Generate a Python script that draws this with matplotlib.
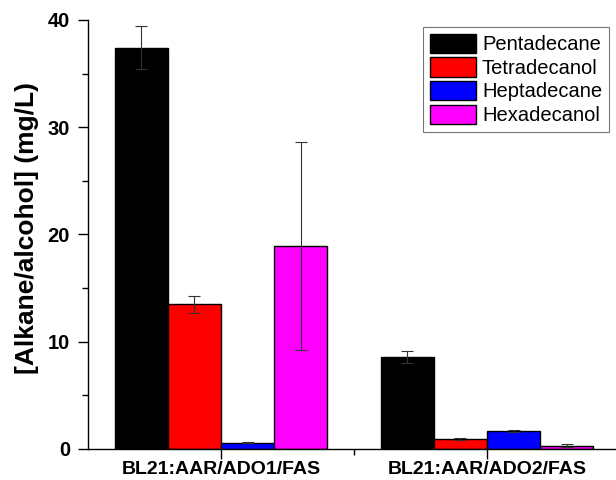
import matplotlib
matplotlib.use("Agg")
import matplotlib.pyplot as plt
import numpy as np
from matplotlib.ticker import MultipleLocator, FixedLocator

plt.rcParams['font.family'] = ['Liberation Sans', 'DejaVu Sans']

groups = ["BL21:AAR/ADO1/FAS", "BL21:AAR/ADO2/FAS"]
series = ["Pentadecane", "Tetradecanol", "Heptadecane", "Hexadecanol"]
colors = ["#000000", "#ff0000", "#0000ff", "#ff00ff"]
values = {
    "Pentadecane": [37.4, 8.6],
    "Tetradecanol": [13.5, 0.9],
    "Heptadecane": [0.6, 1.7],
    "Hexadecanol": [18.9, 0.3],
}
errors = {
    "Pentadecane": [2.0, 0.55],
    "Tetradecanol": [0.8, 0.1],
    "Heptadecane": [0.07, 0.08],
    "Hexadecanol": [9.7, 0.15],
}

fig = plt.figure(figsize=(6.16, 4.8), dpi=100)
ax = fig.add_axes([88/616, 31/480, 1 - 88/616, 429/480])

x = np.arange(len(groups))
width = 0.2
offsets = [-0.3, -0.1, 0.1, 0.3]
for s, c, off in zip(series, colors, offsets):
    ax.bar(x + off, values[s], width, color=c, edgecolor="black", linewidth=1.0,
           label=s, zorder=2)
    ax.errorbar(x + off, values[s], yerr=errors[s], fmt="none", ecolor="#333333",
                elinewidth=0.8, capsize=4.3, capthick=0.8, zorder=3)

ax.set_xlim(-0.5, 1.485)
ax.set_ylim(0, 40)
ax.spines['top'].set_visible(False)
ax.spines['right'].set_visible(False)
ax.spines['left'].set_linewidth(1.0)
ax.spines['bottom'].set_linewidth(1.0)

ax.set_xticks(x)
ax.set_xticklabels(groups, fontsize=14, fontweight="bold")
ax.xaxis.set_minor_locator(FixedLocator([0.5]))
ax.yaxis.set_major_locator(MultipleLocator(10))
ax.yaxis.set_minor_locator(MultipleLocator(5))
ax.tick_params(axis='both', which='major', direction='out', length=7, width=1.0)
ax.tick_params(axis='both', which='minor', direction='out', length=4, width=1.0)
ax.tick_params(axis='x', which='major', pad=2)
ax.tick_params(axis='y', which='major', pad=6)
for lab in ax.get_yticklabels():
    lab.set_fontsize(14.5)
    lab.set_fontweight("bold")

ax.set_ylabel("[Alkane/alcohol] (mg/L)", fontsize=19, fontweight="bold")
ax.yaxis.set_label_coords(-0.092, 0.515)

leg = ax.legend(loc="upper right", bbox_to_anchor=(0.987, 0.984), borderaxespad=0,
                fontsize=14.5, frameon=True, fancybox=False, shadow=False,
                handlelength=2.3, handleheight=1.1, labelspacing=0.15,
                handletextpad=0.3, borderpad=0.35)
leg.get_frame().set_edgecolor("#555555")
leg.get_frame().set_linewidth(0.8)

fig.savefig("out.png", dpi=100)
